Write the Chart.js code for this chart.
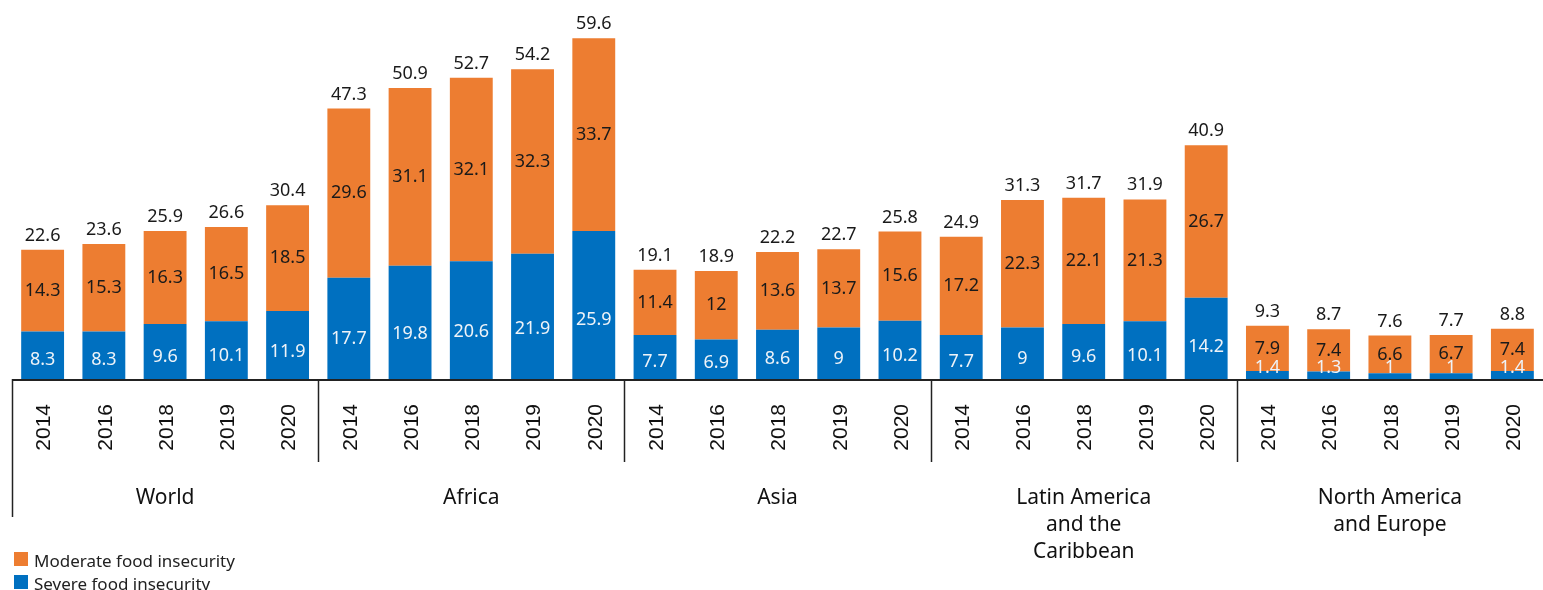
<!DOCTYPE html>
<html lang="en">
<head>
  <meta charset="UTF-8">
  <title>Food insecurity by region</title>
  <script src="https://cdn.jsdelivr.net/npm/chart.js"></script>
  <style>
    html,body { margin:0; padding:0; background:#fff; }
    #wrap { width:1543px; height:590px; position:relative; }
  </style>
</head>
<body>
<div id="wrap"><canvas id="chart" width="1543" height="590"></canvas></div>

<script>
  // data
  const years = ["2014","2016","2018","2019","2020"];
  const regions = [["World"],["Africa"],["Asia"],["Latin America","and the","Caribbean"],["North America","and Europe"]];
  const severe   = [8.3,8.3,9.6,10.1,11.9, 17.7,19.8,20.6,21.9,25.9, 7.7,6.9,8.6,9,10.2, 7.7,9,9.6,10.1,14.2, 1.4,1.3,1,1,1.4];
  const moderate = [14.3,15.3,16.3,16.5,18.5, 29.6,31.1,32.1,32.3,33.7, 11.4,12,13.6,13.7,15.6, 17.2,22.3,22.1,21.3,26.7, 7.9,7.4,6.6,6.7,7.4];
  const totals   = [22.6,23.6,25.9,26.6,30.4, 47.3,50.9,52.7,54.2,59.6, 19.1,18.9,22.2,22.7,25.8, 24.9,31.3,31.7,31.9,40.9, 9.3,8.7,7.6,7.7,8.8];
  const labels = regions.flatMap(() => years);

  const ORANGE = "#ED7D31", BLUE = "#0070C0";
  const LABEL_FONT = "'Noto Sans', sans-serif";

  // draws value labels, the axis, year labels, region labels and legend
  const decor = {
    id: "decor",
    afterDatasetsDraw(chart) {
      const ctx = chart.ctx;
      const sev = chart.getDatasetMeta(0).data;
      const mod = chart.getDatasetMeta(1).data;
      ctx.save();
      ctx.font = "18px " + LABEL_FONT;
      ctx.textAlign = "center";
      sev.forEach((bar, i) => {
        const h = bar.base - bar.y;
        ctx.fillStyle = "#eef3f8";
        ctx.textBaseline = "middle";
        ctx.fillText(String(severe[i]), bar.x, bar.base - Math.max(h * 0.4, 11));
        const m = mod[i];
        ctx.fillStyle = "#1a1a1a";
        ctx.fillText(String(moderate[i]), m.x, (m.y + m.base) / 2);
        ctx.textBaseline = "alphabetic";
        ctx.fillText(String(totals[i]), m.x, m.y - 9);
      });
      ctx.restore();
    },
    afterDraw(chart) {
      const ctx = chart.ctx;
      const x = chart.scales.x;
      const area = chart.chartArea;
      const base = area.bottom;
      const step = x.getPixelForValue(1) - x.getPixelForValue(0);
      ctx.save();

      // axis line
      ctx.strokeStyle = "#222";
      ctx.lineWidth = 2;
      ctx.beginPath();
      ctx.moveTo(area.left, base + 1);
      ctx.lineTo(area.right, base + 1);
      ctx.stroke();

      // group separators
      ctx.lineWidth = 1.5;
      for (let g = 0; g < regions.length; g++) {
        const sx = Math.round(x.getPixelForValue(g * years.length) - step / 2) + 0.5;
        ctx.beginPath();
        ctx.moveTo(sx, base);
        ctx.lineTo(sx, g === 0 ? 517 : 462);
        ctx.stroke();
      }

      // year labels, rotated
      ctx.fillStyle = "#111";
      ctx.font = "21px 'Liberation Sans', Arial, sans-serif";
      labels.forEach((lab, i) => {
        ctx.save();
        ctx.translate(x.getPixelForValue(i) + 2, 404);
        ctx.rotate(-Math.PI / 2);
        ctx.textAlign = "right";
        ctx.textBaseline = "middle";
        ctx.fillText(lab, 0, 0);
        ctx.restore();
      });

      // region labels
      ctx.font = "21px " + LABEL_FONT;
      ctx.textAlign = "center";
      ctx.textBaseline = "alphabetic";
      regions.forEach((lines, g) => {
        const cx = (x.getPixelForValue(g * 5) + x.getPixelForValue(g * 5 + 4)) / 2;
        lines.forEach((t, k) => ctx.fillText(t, cx, 504 + k * 27));
      });

      // legend
      const items = [["Moderate food insecurity", ORANGE], ["Severe food insecurity", BLUE]];
      ctx.font = "17px " + LABEL_FONT;
      ctx.textAlign = "left";
      items.forEach(([t, c], k) => {
        const y = 552 + k * 23;
        ctx.fillStyle = c;
        ctx.fillRect(14, y, 14, 14);
        ctx.fillStyle = "#222";
        ctx.fillText(t, 34, y + 15);
      });
      ctx.restore();
    }
  };

  new Chart(document.getElementById("chart"), {
    type: "bar",
    data: {
      labels: labels,
      datasets: [
        { label: "Severe food insecurity", data: severe, backgroundColor: BLUE },
        { label: "Moderate food insecurity", data: moderate, backgroundColor: ORANGE }
      ]
    },
    options: {
      responsive: false,
      animation: false,
      layout: { padding: { left: 12, right: 0, top: 36, bottom: 211 } },
      datasets: { bar: { categoryPercentage: 1, barPercentage: 0.7 } },
      plugins: { legend: { display: false }, tooltip: { enabled: false } },
      scales: {
        x: { stacked: true, display: false },
        y: { stacked: true, display: false, min: 0, max: 60 }
      }
    },
    plugins: [decor]
  });
</script>
</body>
</html>
